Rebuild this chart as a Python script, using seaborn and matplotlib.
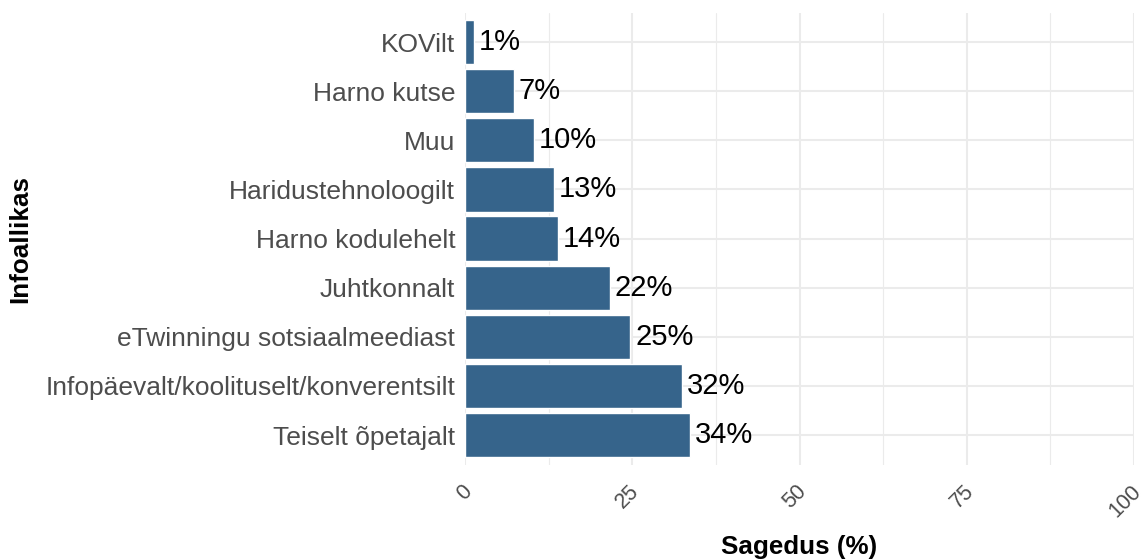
import matplotlib
matplotlib.use("Agg")
import matplotlib.pyplot as plt
import matplotlib.transforms as mtransforms
import seaborn as sns
import pandas as pd
from matplotlib.ticker import MultipleLocator

sources = ["KOVilt", "Harno kutse", "Muu", "Haridustehnoloogilt", "Harno kodulehelt",
           "Juhtkonnalt", "eTwinningu sotsiaalmeediast",
           "Infopäevalt/koolituselt/konverentsilt", "Teiselt õpetajalt"]
shares = [1.3, 7.3, 10.3, 13.3, 13.9, 21.6, 24.7, 32.4, 33.6]
share_labels = ["1%", "7%", "10%", "13%", "14%", "22%", "25%", "32%", "34%"]

df = pd.DataFrame({"Infoallikas": sources, "Sagedus": shares})

sns.set_theme(style="whitegrid")
plt.rcParams["font.family"] = ["Liberation Sans", "DejaVu Sans"]

fig = plt.figure(figsize=(11.48, 5.59), dpi=100)
ax = fig.add_axes([0.4051, 0.169, 0.5827, 0.8086])

sns.barplot(data=df, x="Sagedus", y="Infoallikas", color="#36648B", saturation=1,
            width=0.9, ax=ax, zorder=2)

ax.set_xlim(0, 100)
ax.set_ylim(8.6, -0.6)
ax.xaxis.set_major_locator(MultipleLocator(25))
ax.xaxis.set_minor_locator(MultipleLocator(12.5))
ax.grid(which="major", color="#EBEBEB", linewidth=1.5)
ax.grid(which="minor", axis="x", color="#EBEBEB", linewidth=0.8)
ax.set_axisbelow(True)
for s in ax.spines.values():
    s.set_visible(False)

ax.tick_params(axis="y", length=0, pad=7, labelsize=19, labelcolor="#4D4D4D")
ax.tick_params(axis="x", which="both", length=0, pad=17, labelsize=15.5,
               labelcolor="#4D4D4D")

# rotated x labels, anchored at their right end like ggplot hjust=1
shift = mtransforms.ScaledTranslation(4 / 100, 0, fig.dpi_scale_trans)
for lab in ax.get_xticklabels():
    lab.set_rotation(45)
    lab.set_rotation_mode("anchor")
    lab.set_ha("right")
    lab.set_va("center")
    lab.set_transform(lab.get_transform() + shift)

ax.bar_label(ax.containers[0], labels=share_labels, padding=3.6, fontsize=21, color="black")

ax.set_xlabel("Sagedus (%)", fontsize=18.7, fontweight="bold", va="center", color="black")
ax.set_ylabel("Infoallikas", fontsize=18.7, fontweight="bold", va="center", color="black")
ax.xaxis.set_label_coords(0.5, -0.183)
ax.yaxis.set_label_coords(-0.665, 0.5)

fig.savefig("out.png", dpi=100)
